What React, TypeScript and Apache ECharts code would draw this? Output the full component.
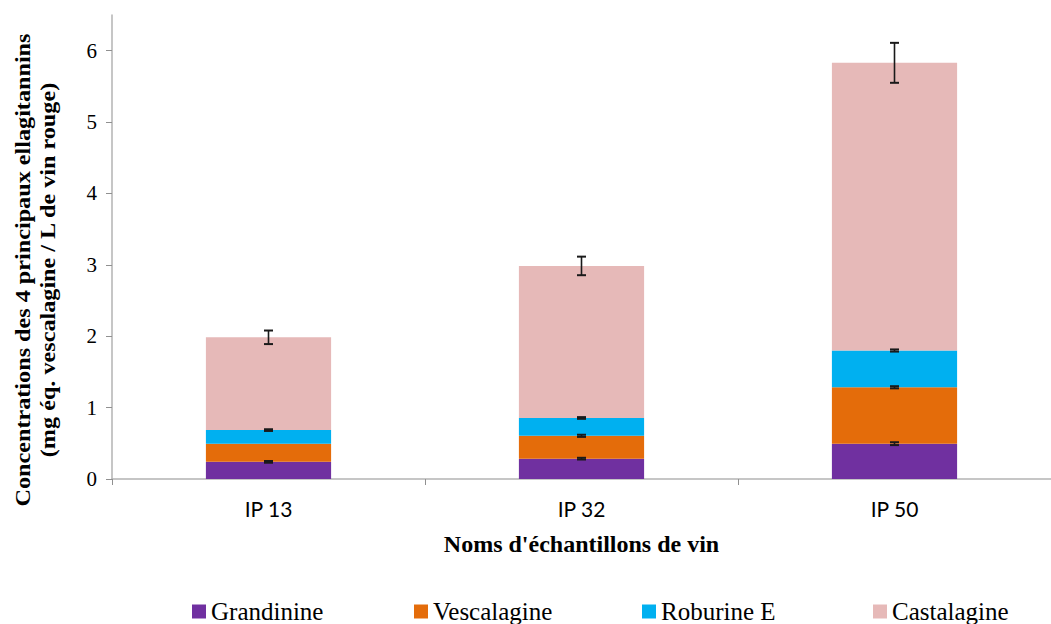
import React, { useEffect, useRef } from "react";
import * as echarts from "echarts";

const categories = ["IP 13", "IP 32", "IP 50"];
const seriesNames = ["Grandinine", "Vescalagine", "Roburine E", "Castalagine"];
const grandinine = [0.24, 0.285, 0.495];
const vescalagine = [0.255, 0.32, 0.79];
const roburineE = [0.19, 0.25, 0.515];
const castalagine = [1.3, 2.13, 4.03];
const grandinineErr = [0.012, 0.012, 0.02];
const vescalagineErr: (number | null)[] = [null, 0.015, 0.015];
const roburineErr = [0.012, 0.012, 0.015];
const castalagineErr = [0.095, 0.13, 0.28];
const yTicks = [0, 1, 2, 3, 4, 5, 6];
const colors = ["#7030A0", "#E46C0A", "#00B0F0", "#E6B9B8"];
const legendLefts = [187, 409, 637, 868];

export default function App() {
  const ref = useRef<HTMLDivElement>(null);
  useEffect(() => {
    if (!ref.current) return;
    const chart = echarts.init(ref.current, null, { renderer: "svg" });
    const values = [grandinine, vescalagine, roburineE, castalagine];
    const errs = [grandinineErr, vescalagineErr, roburineErr, castalagineErr];
    const errData: number[][] = [];
    for (let c = 0; c < categories.length; c++) {
      let cum = 0;
      for (let s = 0; s < values.length; s++) {
        cum += values[s][c];
        const e = errs[s][c];
        if (e != null) errData.push([c, cum, e]);
      }
    }
    const serif = "Liberation Serif";
    chart.setOption({
      animation: false,
      color: colors,
      grid: { left: 112, right: -12, top: 15, bottom: 145 },
      legend: seriesNames.map((name, i) => ({
        data: [name],
        left: legendLefts[i],
        top: 594,
        itemWidth: 14,
        itemHeight: 14,
        itemGap: 0,
        icon: "rect",
        textStyle: { fontFamily: serif, fontSize: 25, color: "#000" },
      })),
      xAxis: {
        type: "category",
        data: categories,
        axisLine: { lineStyle: { color: "#B3B3B3", width: 1.5 } },
        axisTick: { show: true, alignWithLabel: false, length: 6, lineStyle: { color: "#909090" } },
        axisLabel: { fontFamily: "Lato", fontSize: 21, color: "#000", margin: 19 },
        name: "Noms d'échantillons de vin",
        nameLocation: "middle",
        nameGap: 53,
        nameTextStyle: { fontFamily: serif, fontSize: 24, fontWeight: "bold", color: "#000" },
      },
      yAxis: {
        type: "value",
        min: 0,
        max: 6.5,
        interval: 1,
        splitLine: { show: false },
        axisLine: { show: true, lineStyle: { color: "#B3B3B3", width: 1.5 } },
        axisTick: { show: true, length: 6, customValues: yTicks, lineStyle: { color: "#909090" } },
        axisLabel: {
          fontFamily: serif,
          fontSize: 21,
          color: "#000",
          margin: 15,
          formatter: (v: number) => (yTicks.indexOf(v) >= 0 ? String(v) : ""),
        },
      },
      graphic: [
        {
          type: "text",
          x: 35,
          y: 270,
          rotation: Math.PI / 2,
          scaleX: 1.1,
          style: {
            text: "Concentrations des 4 principaux ellagitannins\n(mg éq. vescalagine / L de vin rouge)",
            fontFamily: serif,
            fontSize: 22,
            fontWeight: "bold",
            fill: "#000",
            align: "center",
            verticalAlign: "middle",
            lineHeight: 25,
          },
        },
      ],
      series: [
        ...seriesNames.map((name, i) => ({
          name,
          type: "bar",
          stack: "total",
          barWidth: "40%",
          data: values[i],
          itemStyle: { color: colors[i] },
        })),
        {
          type: "custom",
          name: "err",
          data: errData,
          z: 10,
          renderItem: (params: any, api: any) => {
            const x = api.value(0);
            const v = api.value(1);
            const e = api.value(2);
            const hi = api.coord([x, v + e]);
            const lo = api.coord([x, v - e]);
            const w = 4.5;
            const st = { stroke: "#1a1a1a", lineWidth: 2 };
            return {
              type: "group",
              children: [
                { type: "line", shape: { x1: hi[0], y1: hi[1], x2: lo[0], y2: lo[1] }, style: { stroke: "#1a1a1a", lineWidth: 1.6 } },
                { type: "line", shape: { x1: hi[0] - w, y1: hi[1], x2: hi[0] + w, y2: hi[1] }, style: st },
                { type: "line", shape: { x1: lo[0] - w, y1: lo[1], x2: lo[0] + w, y2: lo[1] }, style: st },
              ],
            };
          },
        },
      ],
    });
    return () => chart.dispose();
  }, []);
  return <div ref={ref} style={{ width: 1051, height: 624, position: "absolute", left: 0, top: 0 }} />;
}
